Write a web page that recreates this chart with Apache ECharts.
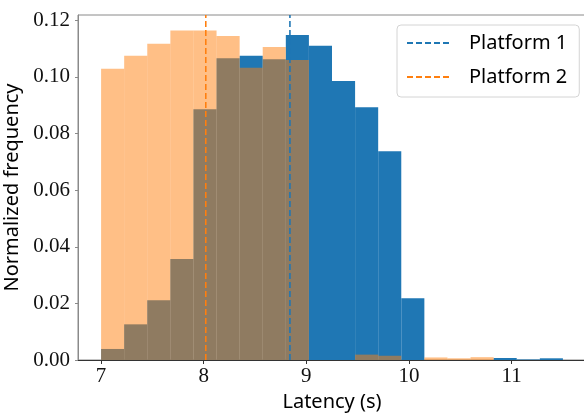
<!DOCTYPE html>
<html>
<head>
<meta charset="utf-8">
<script src="https://cdn.jsdelivr.net/npm/echarts@6/dist/echarts.min.js"></script>
<style>
  html, body { margin: 0; padding: 0; background: #fff; }
  #chart { width: 584px; height: 414px; }
</style>
</head>
<body>
<div id="chart"></div>
<script>
// bin edges (s), shared by both histograms
const binEdges = [7.0, 7.225, 7.45, 7.675, 7.9, 8.125, 8.35, 8.575, 8.8, 9.025, 9.25,
  9.475, 9.7, 9.925, 10.15, 10.375, 10.6, 10.825, 11.05, 11.275, 11.5]
// normalized frequency per bin
const platform1 = [0.0039, 0.0126, 0.0211, 0.0357, 0.0886, 0.1066, 0.1075, 0.1063, 0.1148, 0.1110,
  0.0986, 0.0893, 0.0738, 0.0218, 0, 0, 0, 0.0007, 0.0002, 0.0006]
const platform2 = [0.1029, 0.1075, 0.1117, 0.1164, 0.1164, 0.1145, 0.1033, 0.1106, 0.1060, 0,
  0, 0.0019, 0.0015, 0, 0.0009, 0.0006, 0.0010, 0, 0, 0]
// mean latency
const mean1 = 8.84
const mean2 = 8.02
const xTicks = [7, 8, 9, 10, 11]
const yTicks = [0, 0.02, 0.04, 0.06, 0.08, 0.10, 0.12]
const yMax = 0.1219

function histData(vals) {
  return vals.map((v, i) => [binEdges[i], binEdges[i + 1], v])
}

function renderBar(params, api) {
  const p0 = api.coord([api.value(0), api.value(2)])
  const p1 = api.coord([api.value(1), 0])
  return {
    type: 'rect',
    shape: {x: p0[0], y: p0[1], width: p1[0] - p0[0], height: p1[1] - p0[1]},
    style: api.style()
  }
}

const chart = echarts.init(document.getElementById('chart'))
const option = {
  animation: false,
  grid: {
    left: 78, top: 15, width: 508, height: 345,
    outerBoundsMode: 'none', containLabel: false,
    show: true, borderColor: '#8a8a8a', borderWidth: 1, backgroundColor: 'transparent'
  },
  legend: {
    data: ['Platform 1', 'Platform 2'],
    orient: 'vertical',
    left: 397, top: 25,
    itemWidth: 45, itemHeight: 20, itemGap: 14,
    padding: [8, 12, 10, 9],
    backgroundColor: 'rgba(255,255,255,0.8)',
    borderColor: '#d4d4d4', borderWidth: 1, borderRadius: 4,
    itemStyle: {opacity: 0},
    textStyle: {fontFamily: 'Noto Sans', fontSize: 20, color: '#000', padding: [0, 0, 0, 12]}
  },
  xAxis: {
    type: 'value', min: 6.775, max: 11.725,
    splitLine: {show: false},
    axisLine: {lineStyle: {color: '#333', width: 1}},
    axisTick: {show: true, length: 4, customValues: xTicks, lineStyle: {color: '#333'}},
    axisLabel: {
      customValues: xTicks, margin: 6,
      fontFamily: 'Liberation Serif', fontSize: 21, color: '#111'
    },
    name: 'Latency (s)', nameLocation: 'middle', nameGap: 28,
    nameTextStyle: {fontFamily: 'Noto Sans', fontSize: 20, color: '#000'}
  },
  yAxis: {
    type: 'value', min: 0, max: yMax,
    splitLine: {show: false},
    axisLine: {show: true, lineStyle: {color: '#8a8a8a', width: 1}},
    axisTick: {show: true, length: 3, customValues: yTicks, lineStyle: {color: '#8a8a8a'}},
    axisLabel: {
      customValues: yTicks, margin: 8,
      formatter: v => v.toFixed(2),
      fontFamily: 'Liberation Serif', fontSize: 21, color: '#111'
    },
    name: 'Normalized frequency', nameLocation: 'middle', nameGap: 47,
    nameTextStyle: {fontFamily: 'Noto Sans', fontSize: 20, color: '#000'}
  },
  series: [
    {
      name: 'hist1', type: 'custom', renderItem: renderBar,
      encode: {x: [0, 1], y: 2},
      itemStyle: {color: '#1f77b4'},
      data: histData(platform1), z: 2
    },
    {
      name: 'hist2', type: 'custom', renderItem: renderBar,
      encode: {x: [0, 1], y: 2},
      itemStyle: {color: 'rgba(255,127,14,0.5)'},
      data: histData(platform2), z: 3
    },
    {
      name: 'Platform 1', type: 'line', symbol: 'none', z: 5,
      lineStyle: {color: '#1f77b4', width: 1.6, type: [6, 3]},
      itemStyle: {color: '#1f77b4'},
      data: [[mean1, 0], [mean1, yMax]]
    },
    {
      name: 'Platform 2', type: 'line', symbol: 'none', z: 5,
      lineStyle: {color: '#ff7f0e', width: 1.6, type: [6, 3]},
      itemStyle: {color: '#ff7f0e'},
      data: [[mean2, 0], [mean2, yMax]]
    }
  ]
}
option && chart.setOption(option)
</script>
</body>
</html>
